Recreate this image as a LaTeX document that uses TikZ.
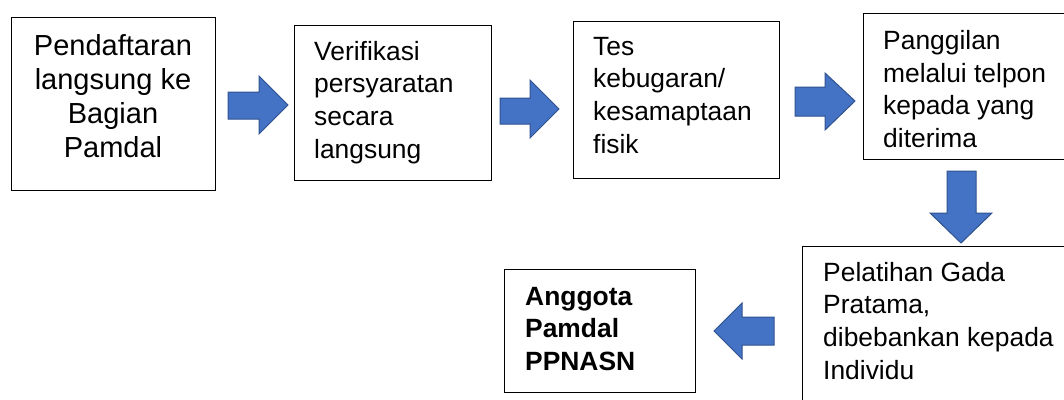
\documentclass[tikz,border=0pt]{standalone}
\usepackage{fontspec}
\setmainfont{Liberation Sans}
\definecolor{arrowfill}{HTML}{4472C4}
\definecolor{arrowline}{HTML}{2F528F}
\begin{document}
\begin{tikzpicture}[x=1pt,y=-1pt,
  box/.style={draw=black, line width=1pt, anchor=north west, inner sep=0pt},
  barrow/.style={fill=arrowfill, draw=arrowline, line width=1pt, line join=miter},
  txt/.style={anchor=base west, inner sep=0pt, font=\fontsize{26.4}{32.7}\selectfont}
]
\useasboundingbox (0,0) rectangle (1064,399);
\clip (0,0) rectangle (1064,399);

% boxes
\node[box, minimum width=204pt, minimum height=173pt] (b1) at (11,17) {};
\node[box, minimum width=197pt, minimum height=155pt] (b2) at (294,25) {};
\node[box, minimum width=206pt, minimum height=157pt] (b3) at (573,21) {};
\node[box, minimum width=210pt, minimum height=146pt] (b4) at (863,13) {};
\node[box, minimum width=270pt, minimum height=165pt] (b5) at (802,246) {};
\node[box, minimum width=191pt, minimum height=123pt] (b6) at (504,269) {};

% texts
\node[txt, anchor=base] (t1) at (113,55) {\parbox[t]{200pt}{\centering\fontsize{29}{34}\selectfont Pendaftaran\\ langsung ke\\ Bagian\\ Pamdal}};
\node[txt] (t2) at (314,60) {\parbox[t]{175pt}{\raggedright Verifikasi\\ persyaratan\\ secara\\ langsung}};
\node[txt] (t3) at (593,55) {\parbox[t]{180pt}{\raggedright Tes\\ kebugaran/\\ kesamaptaan\\ fisik}};
\node[txt] (t4) at (883,49.5) {\parbox[t]{180pt}{\raggedright Panggilan\\ melalui telpon\\ kepada yang\\ diterima}};
\node[txt] (t5) at (823,281) {\parbox[t]{240pt}{\raggedright Pelatihan Gada\\ Pratama,\\ dibebankan kepada\\ Individu}};
\node[txt] (t6) at (525,305) {\parbox[t]{160pt}{\raggedright\bfseries Anggota\\ Pamdal\\ PPNASN}};

% block arrows
\draw[barrow] (228,92) -- (259,92) -- (259,76) -- (288,105) -- (259,134) -- (259,119) -- (228,119) -- cycle;
\draw[barrow] (500,98) -- (530,98) -- (530,80) -- (559,109) -- (530,138) -- (530,124) -- (500,124) -- cycle;
\draw[barrow] (795,87) -- (825,87) -- (825,73) -- (855,101) -- (825,130) -- (825,116) -- (795,116) -- cycle;
\draw[barrow] (947,171) -- (976,171) -- (976,213) -- (992,213) -- (961,243) -- (930,213) -- (947,213) -- cycle;
\draw[barrow] (774,317) -- (742,317) -- (742,303) -- (714,331) -- (742,359) -- (742,345) -- (774,345) -- cycle;
\end{tikzpicture}
\end{document}
